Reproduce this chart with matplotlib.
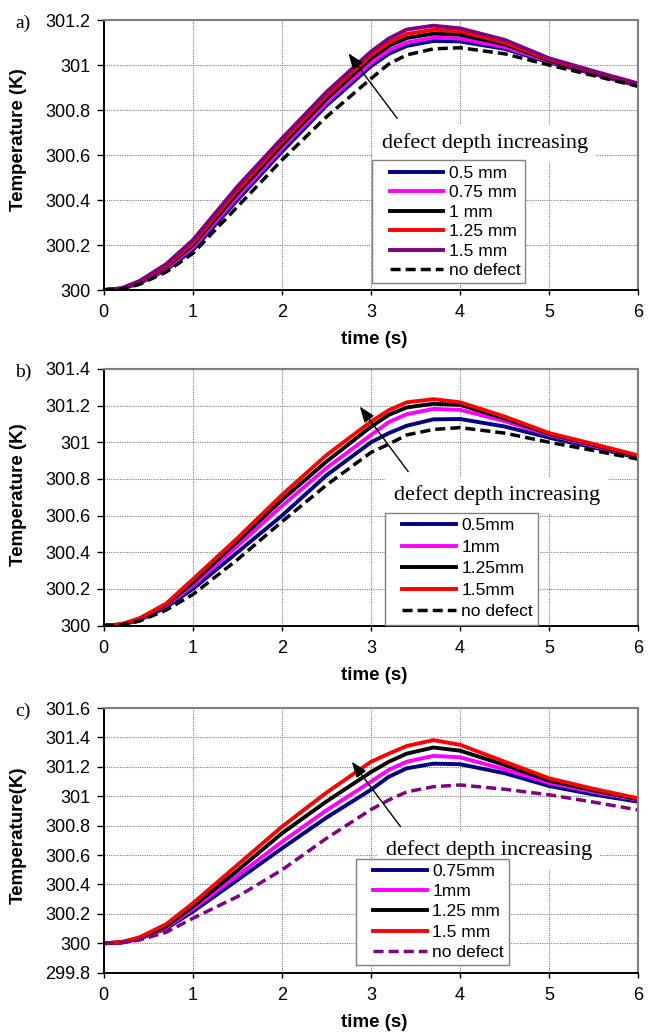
import matplotlib
matplotlib.use("Agg")
import matplotlib.pyplot as plt
from matplotlib.lines import Line2D
from matplotlib.legend_handler import HandlerLine2D
from matplotlib.ticker import FuncFormatter, MultipleLocator

plt.rcParams["font.family"] = ["Liberation Sans", "DejaVu Sans"]

# time axis shared by all three panels (s)
time_s = [0, 0.2, 0.4, 0.7, 1.0, 1.5, 2.0, 2.5, 3.0, 3.2, 3.4, 3.7, 4.0, 4.5, 5.0, 5.5, 6.0]

# ---- panel a) -------------------------------------------------------------
a_labels = ["0.5 mm", "0.75 mm", "1 mm", "1.25 mm", "1.5 mm", "no defect"]
a_d050 = [300, 300.005, 300.030, 300.090, 300.178, 300.400, 300.615, 300.820, 300.995,
          301.050, 301.085, 301.107, 301.105, 301.072, 301.012, 300.960, 300.908]
a_d075 = [300, 300.006, 300.033, 300.097, 300.190, 300.415, 300.630, 300.835, 301.010,
          301.065, 301.100, 301.122, 301.118, 301.080, 301.016, 300.963, 300.910]
a_d100 = [300, 300.006, 300.035, 300.103, 300.200, 300.430, 300.645, 300.850, 301.030,
          301.085, 301.120, 301.140, 301.135, 301.092, 301.020, 300.966, 300.912]
a_d125 = [300, 300.007, 300.037, 300.108, 300.210, 300.445, 300.660, 300.865, 301.045,
          301.100, 301.138, 301.157, 301.150, 301.100, 301.025, 300.970, 300.915]
a_d150 = [300, 300.008, 300.040, 300.115, 300.222, 300.460, 300.674, 300.880, 301.060,
          301.118, 301.158, 301.175, 301.163, 301.112, 301.030, 300.973, 300.918]
a_none = [300, 300.004, 300.025, 300.080, 300.163, 300.370, 300.578, 300.770, 300.940,
          301.005, 301.045, 301.072, 301.077, 301.050, 301.000, 300.953, 300.905]

# ---- panel b) -------------------------------------------------------------
b_labels = ["0.5mm", "1mm", "1.25mm", "1.5mm", "no defect"]
b_d050 = [300, 300.005, 300.030, 300.100, 300.200, 300.400, 300.600, 300.820, 301.000,
          301.050, 301.090, 301.125, 301.127, 301.086, 301.025, 300.972, 300.915]
b_d100 = [300, 300.006, 300.034, 300.110, 300.220, 300.435, 300.653, 300.860, 301.040,
          301.110, 301.153, 301.182, 301.177, 301.115, 301.040, 300.980, 300.920]
b_d125 = [300, 300.007, 300.037, 300.115, 300.235, 300.460, 300.686, 300.895, 301.085,
          301.150, 301.190, 301.210, 301.204, 301.130, 301.045, 300.985, 300.923]
b_d150 = [300, 300.008, 300.040, 300.120, 300.253, 300.477, 300.713, 300.930, 301.113,
          301.175, 301.218, 301.235, 301.218, 301.140, 301.050, 300.990, 300.928]
b_none = [300, 300.004, 300.025, 300.085, 300.170, 300.360, 300.567, 300.767, 300.945,
          300.990, 301.040, 301.070, 301.080, 301.050, 301.000, 300.955, 300.908]

# ---- panel c) -------------------------------------------------------------
c_labels = ["0.75mm", "1mm", "1.25 mm", "1.5 mm", "no defect"]
c_d075 = [300, 300.005, 300.030, 300.100, 300.215, 300.430, 300.646, 300.855, 301.045,
          301.133, 301.190, 301.222, 301.218, 301.157, 301.070, 301.012, 300.963]
c_d100 = [300, 300.006, 300.033, 300.107, 300.235, 300.460, 300.690, 300.905, 301.100,
          301.180, 301.235, 301.275, 301.265, 301.183, 301.090, 301.030, 300.975]
c_d125 = [300, 300.007, 300.036, 300.115, 300.250, 300.495, 300.748, 300.965, 301.165,
          301.235, 301.290, 301.332, 301.310, 301.213, 301.106, 301.040, 300.980]
c_d150 = [300, 300.008, 300.040, 300.130, 300.272, 300.533, 300.793, 301.025, 301.235,
          301.290, 301.342, 301.382, 301.350, 301.235, 301.122, 301.050, 300.986]
c_none = [300, 300.004, 300.022, 300.075, 300.170, 300.317, 300.499, 300.714, 300.910,
          300.975, 301.030, 301.065, 301.077, 301.048, 301.010, 300.960, 300.907]

NAVY, MAGENTA, RED, PURPLE = "#000080", "#FF00FF", "#FF0000", "#800080"
GREY = "#808080"

PANELS = [
    dict(tag="a)", rect=[0.1582, 0.7195, 0.8148, 0.2611], ylim=(300, 301.2),
         series=[a_d050, a_d075, a_d100, a_d125, a_d150], none=a_none,
         labels=a_labels, colours=[NAVY, MAGENTA, "black", RED, PURPLE],
         none_colour="black", leg=(0.5023, 0.025), legsp=0.25,
         head=(2.746, 301.052), tail=(3.294, 300.763), txt=(3.12, 300.631),
         ylabel="Temperature (K)", ylab_y=0.556, xlab_y=-0.152),
    dict(tag="b)", rect=[0.1582, 0.3949, 0.8148, 0.2483], ylim=(300, 301.4),
         series=[b_d050, b_d100, b_d125, b_d150], none=b_none,
         labels=b_labels, colours=[NAVY, MAGENTA, "black", RED],
         none_colour="black", leg=(0.526, 0.004), legsp=0.37,
         head=(2.874, 301.195), tail=(3.417, 300.84), txt=(3.257, 300.686),
         ylabel="Temperature (K)", ylab_y=0.509, xlab_y=-0.162),
    dict(tag="c)", rect=[0.1582, 0.0593, 0.8148, 0.2559], ylim=(299.8, 301.6),
         series=[c_d075, c_d100, c_d125, c_d150], none=c_none,
         labels=c_labels, colours=[NAVY, MAGENTA, "black", RED],
         none_colour=PURPLE, leg=(0.472, 0.029), legsp=0.29,
         head=(2.784, 301.235), tail=(3.332, 300.793), txt=(3.163, 300.60),
         ylabel="Temperature(K)", ylab_y=0.52, xlab_y=-0.158),
]

fig = plt.figure(figsize=(6.56, 10.34), dpi=100)

for p in PANELS:
    ax = fig.add_axes(p["rect"])
    ax.set_axisbelow(True)

    for vals, col, lab in zip(p["series"], p["colours"], p["labels"]):
        ax.plot(time_s, vals, color=col, lw=2.8, label=lab)
    ax.plot(time_s, p["none"], color=p["none_colour"], lw=2.5, ls=(0, (2.9, 1.45)),
            label=p["labels"][-1])

    ax.set_xlim(0, 6)
    ax.set_ylim(*p["ylim"])
    ax.xaxis.set_major_locator(MultipleLocator(1))
    ax.yaxis.set_major_locator(MultipleLocator(0.2))
    ax.yaxis.set_major_formatter(FuncFormatter(lambda v, _: f"{v:g}"))
    ax.tick_params(axis="y", direction="out", length=5, width=1, pad=4.5, labelsize=13)
    ax.tick_params(axis="x", direction="out", length=3.6, width=1, pad=6.5, labelsize=13)
    ax.grid(True, color=GREY, ls=(0, (1, 1)), lw=0.8)

    for side in ("left", "bottom"):
        ax.spines[side].set_color("black")
        ax.spines[side].set_linewidth(1.4)
    for side in ("top", "right"):
        ax.spines[side].set_color(GREY)
        ax.spines[side].set_linewidth(1.5)

    ax.set_ylabel(p["ylabel"], fontsize=13.5, fontweight="bold")
    ax.yaxis.set_label_coords(-0.144, p["ylab_y"])
    ax.set_xlabel("time (s)", fontsize=13.5, fontweight="bold")
    ax.xaxis.set_label_coords(0.505, p["xlab_y"])

    # annotation: white box behind text hides the grid
    ax.text(p["txt"][0], p["txt"][1], "defect depth increasing",
            family=["Liberation Serif", "DejaVu Serif"], fontsize=16,
            va="baseline", ha="left", zorder=3,
            bbox=dict(facecolor="white", edgecolor="none", pad=6))
    ax.annotate("", xy=p["head"], xytext=p["tail"], zorder=4,
                arrowprops=dict(arrowstyle="-|>,head_length=0.8,head_width=0.3",
                                mutation_scale=12, color="black", lw=1.0,
                                shrinkA=0, shrinkB=0))

    leg = ax.legend(loc="lower left", bbox_to_anchor=p["leg"], fontsize=12.5,
                    frameon=True, fancybox=False, framealpha=1, edgecolor=GREY,
                    borderpad=0.3, borderaxespad=0, handlelength=3.8,
                    handletextpad=0.3, labelspacing=p["legsp"],
                    handler_map={Line2D: HandlerLine2D(xpad=0.7)})
    leg.get_frame().set_linewidth(1.0)
    leg.set_zorder(5)

    fig.text(15 / 656, ax.get_position().y1 - 8 / 1034, p["tag"],
             family=["Liberation Serif", "DejaVu Serif"], fontsize=14,
             va="baseline", ha="left")

fig.savefig("out.png", dpi=100)
